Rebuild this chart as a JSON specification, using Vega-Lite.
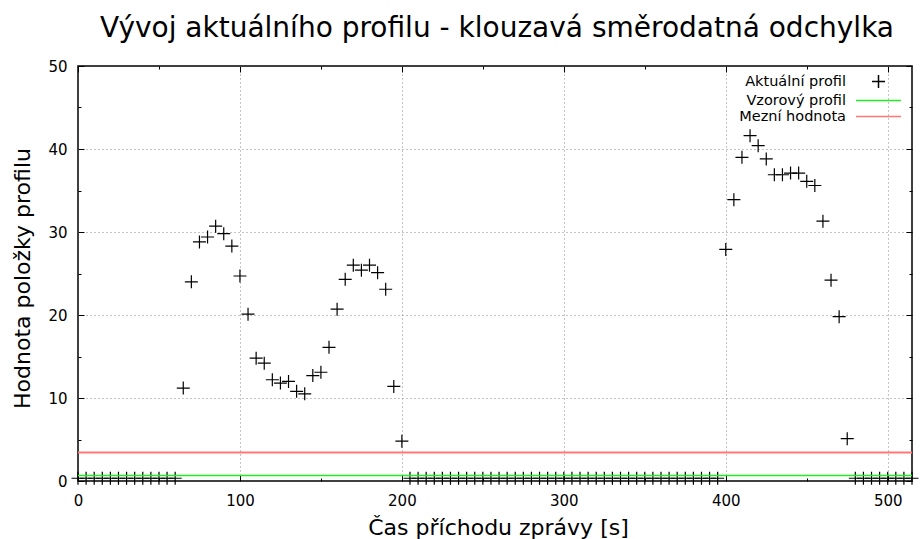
{
  "$schema": "https://vega.github.io/schema/vega-lite/v6.json",
  "width": 834,
  "height": 415,
  "autosize": {"type": "none"},
  "padding": {"left": 78, "top": 66, "right": 8, "bottom": 58},
  "background": "white",
  "title": {
    "text": "Vývoj aktuálního profilu - klouzavá směrodatná odchylka",
    "font": "DejaVu Sans",
    "fontSize": 28,
    "fontWeight": "normal",
    "color": "black",
    "anchor": "middle",
    "frame": "group",
    "baseline": "bottom",
    "offset": -12,
    "dx": 2
  },
  "config": {
    "view": {"stroke": "black", "strokeWidth": 1.5},
    "font": "DejaVu Sans",
    "legend": {
      "title": null,
      "orient": "none",
      "legendX": 793,
      "legendY": 8,
      "padding": 0,
      "labelAlign": "right",
      "labelOffset": -40,
      "labelFont": "DejaVu Sans",
      "labelFontSize": 14.5,
      "labelColor": "black",
      "labelLimit": 300,
      "rowPadding": 1,
      "symbolSize": 169,
      "symbolStrokeWidth": 1.5,
      "symbolOpacity": 1
    }
  },
  "data": {
    "values": [
      {"serie": "Aktuální profil", "cas": 0, "hodnota": 0.33},
      {"serie": "Aktuální profil", "cas": 5, "hodnota": 0.33},
      {"serie": "Aktuální profil", "cas": 10, "hodnota": 0.33},
      {"serie": "Aktuální profil", "cas": 15, "hodnota": 0.33},
      {"serie": "Aktuální profil", "cas": 20, "hodnota": 0.33},
      {"serie": "Aktuální profil", "cas": 25, "hodnota": 0.33},
      {"serie": "Aktuální profil", "cas": 30, "hodnota": 0.33},
      {"serie": "Aktuální profil", "cas": 35, "hodnota": 0.33},
      {"serie": "Aktuální profil", "cas": 40, "hodnota": 0.33},
      {"serie": "Aktuální profil", "cas": 45, "hodnota": 0.33},
      {"serie": "Aktuální profil", "cas": 50, "hodnota": 0.33},
      {"serie": "Aktuální profil", "cas": 55, "hodnota": 0.33},
      {"serie": "Aktuální profil", "cas": 60, "hodnota": 0.33},
      {"serie": "Aktuální profil", "cas": 65, "hodnota": 11.2},
      {"serie": "Aktuální profil", "cas": 70, "hodnota": 24.0},
      {"serie": "Aktuální profil", "cas": 75, "hodnota": 28.8},
      {"serie": "Aktuální profil", "cas": 80, "hodnota": 29.4},
      {"serie": "Aktuální profil", "cas": 85, "hodnota": 30.7},
      {"serie": "Aktuální profil", "cas": 90, "hodnota": 29.8},
      {"serie": "Aktuální profil", "cas": 95, "hodnota": 28.3},
      {"serie": "Aktuální profil", "cas": 100, "hodnota": 24.7},
      {"serie": "Aktuální profil", "cas": 105, "hodnota": 20.1},
      {"serie": "Aktuální profil", "cas": 110, "hodnota": 14.8},
      {"serie": "Aktuální profil", "cas": 115, "hodnota": 14.2},
      {"serie": "Aktuální profil", "cas": 120, "hodnota": 12.2},
      {"serie": "Aktuální profil", "cas": 125, "hodnota": 11.8},
      {"serie": "Aktuální profil", "cas": 130, "hodnota": 12.0},
      {"serie": "Aktuální profil", "cas": 135, "hodnota": 10.8},
      {"serie": "Aktuální profil", "cas": 140, "hodnota": 10.5},
      {"serie": "Aktuální profil", "cas": 145, "hodnota": 12.7},
      {"serie": "Aktuální profil", "cas": 150, "hodnota": 13.1},
      {"serie": "Aktuální profil", "cas": 155, "hodnota": 16.1},
      {"serie": "Aktuální profil", "cas": 160, "hodnota": 20.7},
      {"serie": "Aktuální profil", "cas": 165, "hodnota": 24.3},
      {"serie": "Aktuální profil", "cas": 170, "hodnota": 26.0},
      {"serie": "Aktuální profil", "cas": 175, "hodnota": 25.4},
      {"serie": "Aktuální profil", "cas": 180, "hodnota": 26.0},
      {"serie": "Aktuální profil", "cas": 185, "hodnota": 25.1},
      {"serie": "Aktuální profil", "cas": 190, "hodnota": 23.1},
      {"serie": "Aktuální profil", "cas": 195, "hodnota": 11.4},
      {"serie": "Aktuální profil", "cas": 200, "hodnota": 4.8},
      {"serie": "Aktuální profil", "cas": 205, "hodnota": 0.33},
      {"serie": "Aktuální profil", "cas": 210, "hodnota": 0.33},
      {"serie": "Aktuální profil", "cas": 215, "hodnota": 0.33},
      {"serie": "Aktuální profil", "cas": 220, "hodnota": 0.33},
      {"serie": "Aktuální profil", "cas": 225, "hodnota": 0.33},
      {"serie": "Aktuální profil", "cas": 230, "hodnota": 0.33},
      {"serie": "Aktuální profil", "cas": 235, "hodnota": 0.33},
      {"serie": "Aktuální profil", "cas": 240, "hodnota": 0.33},
      {"serie": "Aktuální profil", "cas": 245, "hodnota": 0.33},
      {"serie": "Aktuální profil", "cas": 250, "hodnota": 0.33},
      {"serie": "Aktuální profil", "cas": 255, "hodnota": 0.33},
      {"serie": "Aktuální profil", "cas": 260, "hodnota": 0.33},
      {"serie": "Aktuální profil", "cas": 265, "hodnota": 0.33},
      {"serie": "Aktuální profil", "cas": 270, "hodnota": 0.33},
      {"serie": "Aktuální profil", "cas": 275, "hodnota": 0.33},
      {"serie": "Aktuální profil", "cas": 280, "hodnota": 0.33},
      {"serie": "Aktuální profil", "cas": 285, "hodnota": 0.33},
      {"serie": "Aktuální profil", "cas": 290, "hodnota": 0.33},
      {"serie": "Aktuální profil", "cas": 295, "hodnota": 0.33},
      {"serie": "Aktuální profil", "cas": 300, "hodnota": 0.33},
      {"serie": "Aktuální profil", "cas": 305, "hodnota": 0.33},
      {"serie": "Aktuální profil", "cas": 310, "hodnota": 0.33},
      {"serie": "Aktuální profil", "cas": 315, "hodnota": 0.33},
      {"serie": "Aktuální profil", "cas": 320, "hodnota": 0.33},
      {"serie": "Aktuální profil", "cas": 325, "hodnota": 0.33},
      {"serie": "Aktuální profil", "cas": 330, "hodnota": 0.33},
      {"serie": "Aktuální profil", "cas": 335, "hodnota": 0.33},
      {"serie": "Aktuální profil", "cas": 340, "hodnota": 0.33},
      {"serie": "Aktuální profil", "cas": 345, "hodnota": 0.33},
      {"serie": "Aktuální profil", "cas": 350, "hodnota": 0.33},
      {"serie": "Aktuální profil", "cas": 355, "hodnota": 0.33},
      {"serie": "Aktuální profil", "cas": 360, "hodnota": 0.33},
      {"serie": "Aktuální profil", "cas": 365, "hodnota": 0.33},
      {"serie": "Aktuální profil", "cas": 370, "hodnota": 0.33},
      {"serie": "Aktuální profil", "cas": 375, "hodnota": 0.33},
      {"serie": "Aktuální profil", "cas": 380, "hodnota": 0.33},
      {"serie": "Aktuální profil", "cas": 385, "hodnota": 0.33},
      {"serie": "Aktuální profil", "cas": 390, "hodnota": 0.33},
      {"serie": "Aktuální profil", "cas": 395, "hodnota": 0.33},
      {"serie": "Aktuální profil", "cas": 400, "hodnota": 27.9},
      {"serie": "Aktuální profil", "cas": 405, "hodnota": 33.9},
      {"serie": "Aktuální profil", "cas": 410, "hodnota": 39.0},
      {"serie": "Aktuální profil", "cas": 415, "hodnota": 41.6},
      {"serie": "Aktuální profil", "cas": 420, "hodnota": 40.4},
      {"serie": "Aktuální profil", "cas": 425, "hodnota": 38.8},
      {"serie": "Aktuální profil", "cas": 430, "hodnota": 36.9},
      {"serie": "Aktuální profil", "cas": 435, "hodnota": 36.9},
      {"serie": "Aktuální profil", "cas": 440, "hodnota": 37.1},
      {"serie": "Aktuální profil", "cas": 445, "hodnota": 37.1},
      {"serie": "Aktuální profil", "cas": 450, "hodnota": 36.1},
      {"serie": "Aktuální profil", "cas": 455, "hodnota": 35.6},
      {"serie": "Aktuální profil", "cas": 460, "hodnota": 31.3},
      {"serie": "Aktuální profil", "cas": 465, "hodnota": 24.2},
      {"serie": "Aktuální profil", "cas": 470, "hodnota": 19.8},
      {"serie": "Aktuální profil", "cas": 475, "hodnota": 5.1},
      {"serie": "Aktuální profil", "cas": 480, "hodnota": 0.33},
      {"serie": "Aktuální profil", "cas": 485, "hodnota": 0.33},
      {"serie": "Aktuální profil", "cas": 490, "hodnota": 0.33},
      {"serie": "Aktuální profil", "cas": 495, "hodnota": 0.33},
      {"serie": "Aktuální profil", "cas": 500, "hodnota": 0.33},
      {"serie": "Aktuální profil", "cas": 505, "hodnota": 0.33},
      {"serie": "Aktuální profil", "cas": 510, "hodnota": 0.33},
      {"serie": "Aktuální profil", "cas": 515, "hodnota": 0.33},
      {"serie": "Vzorový profil", "cas": 0, "hodnota": 0.66},
      {"serie": "Vzorový profil", "cas": 515, "hodnota": 0.66},
      {"serie": "Mezní hodnota", "cas": 0, "hodnota": 3.44},
      {"serie": "Mezní hodnota", "cas": 515, "hodnota": 3.44}
    ]
  },
  "encoding": {
    "color": {
      "field": "serie",
      "type": "nominal",
      "scale": {
        "domain": ["Aktuální profil", "Vzorový profil", "Mezní hodnota"],
        "range": ["#000000", "#22ee22", "#ff7777"]
      }
    }
  },
  "layer": [
    {
      "transform": [{"filter": "datum.serie === 'Aktuální profil'"}],
      "mark": {"type": "point", "filled": false, "size": 169, "strokeWidth": 1.2, "opacity": 1},
      "encoding": {
        "shape": {
          "field": "serie",
          "type": "nominal",
          "scale": {
            "domain": ["Aktuální profil", "Vzorový profil", "Mezní hodnota"],
            "range": ["M-1,0H1M0,-1V1", "M-3.46,0H3.46", "M-3.46,0H3.46"]
          }
        },
        "x": {
          "field": "cas",
          "type": "quantitative",
          "scale": {"domain": [0, 515], "nice": false, "zero": false},
          "axis": {
            "orient": "bottom",
            "values": [0, 50, 100, 150, 200, 250, 300, 350, 400, 450, 500],
            "labelExpr": "datum.value % 100 === 0 ? datum.label : ''",
            "labelFont": "DejaVu Sans",
            "labelFontSize": 15,
            "labelColor": "black",
            "labelBaseline": "alphabetic",
            "labelPadding": 30,
            "labelFlush": false,
            "labelOverlap": false,
            "domain": false,
            "grid": true,
            "gridDash": [1, 3],
            "gridColor": "#888888",
            "gridWidth": 1,
            "gridOpacity": {"condition": {"test": "datum.value % 100 !== 0 || datum.value === 0", "value": 0}, "value": 1},
            "tickColor": "black",
            "tickWidth": 1,
            "tickSize": {"condition": {"test": "datum.value % 100 !== 0", "value": -3}, "value": -6},
            "title": "Čas příchodu zprávy [s]",
            "titleFont": "DejaVu Sans",
            "titleFontSize": 22,
            "titleFontWeight": "normal",
            "titleColor": "black",
            "titleX": 420,
            "titleY": 53,
            "titleAlign": "center",
            "titleBaseline": "alphabetic"
          }
        },
        "y": {
          "field": "hodnota",
          "type": "quantitative",
          "scale": {"domain": [0, 50], "nice": false, "zero": false},
          "axis": {
            "orient": "left",
            "values": [0, 5, 10, 15, 20, 25, 30, 35, 40, 45, 50],
            "labelExpr": "datum.value % 10 === 0 ? datum.label : ''",
            "labelFont": "DejaVu Sans",
            "labelFontSize": 15,
            "labelColor": "black",
            "labelBaseline": "middle",
            "labelPadding": 17,
            "labelFlush": false,
            "labelOverlap": false,
            "domain": false,
            "grid": true,
            "gridDash": [1, 3],
            "gridColor": "#888888",
            "gridWidth": 1,
            "gridOpacity": {"condition": {"test": "datum.value % 10 !== 0 || datum.value === 0 || datum.value === 50", "value": 0}, "value": 1},
            "tickColor": "black",
            "tickWidth": 1,
            "tickSize": {"condition": {"test": "datum.value % 10 !== 0", "value": -3}, "value": -6},
            "title": "Hodnota položky profilu",
            "titleFont": "DejaVu Sans",
            "titleFontSize": 22,
            "titleFontWeight": "normal",
            "titleColor": "black",
            "titleAngle": -90,
            "titleX": -49,
            "titleY": 212,
            "titleAlign": "center",
            "titleBaseline": "alphabetic"
          }
        }
      }
    },
    {
      "transform": [{"filter": "datum.serie === 'Vzorový profil'"}],
      "mark": {"type": "line", "strokeWidth": 1.5},
      "encoding": {
        "x": {
          "field": "cas",
          "type": "quantitative",
          "scale": {"domain": [0, 515], "nice": false, "zero": false},
          "axis": {
            "orient": "top",
            "values": [0, 50, 100, 150, 200, 250, 300, 350, 400, 450, 500],
            "labels": false,
            "domain": false,
            "grid": false,
            "title": null,
            "tickColor": "black",
            "tickWidth": 1,
            "tickSize": {"condition": {"test": "datum.value % 100 !== 0", "value": -3}, "value": -6}
          }
        },
        "y": {
          "field": "hodnota",
          "type": "quantitative",
          "scale": {"domain": [0, 50], "nice": false, "zero": false},
          "axis": {
            "orient": "right",
            "values": [0, 5, 10, 15, 20, 25, 30, 35, 40, 45, 50],
            "labels": false,
            "domain": false,
            "grid": false,
            "title": null,
            "tickColor": "black",
            "tickWidth": 1,
            "tickSize": {"condition": {"test": "datum.value % 10 !== 0", "value": -3}, "value": -6}
          }
        }
      }
    },
    {
      "transform": [{"filter": "datum.serie === 'Mezní hodnota'"}],
      "mark": {"type": "line", "strokeWidth": 2},
      "encoding": {
        "x": {
          "field": "cas",
          "type": "quantitative",
          "scale": {"domain": [0, 515], "nice": false, "zero": false},
          "axis": null
        },
        "y": {
          "field": "hodnota",
          "type": "quantitative",
          "scale": {"domain": [0, 50], "nice": false, "zero": false},
          "axis": null
        }
      }
    }
  ],
  "resolve": {"axis": {"x": "independent", "y": "independent"}}
}
